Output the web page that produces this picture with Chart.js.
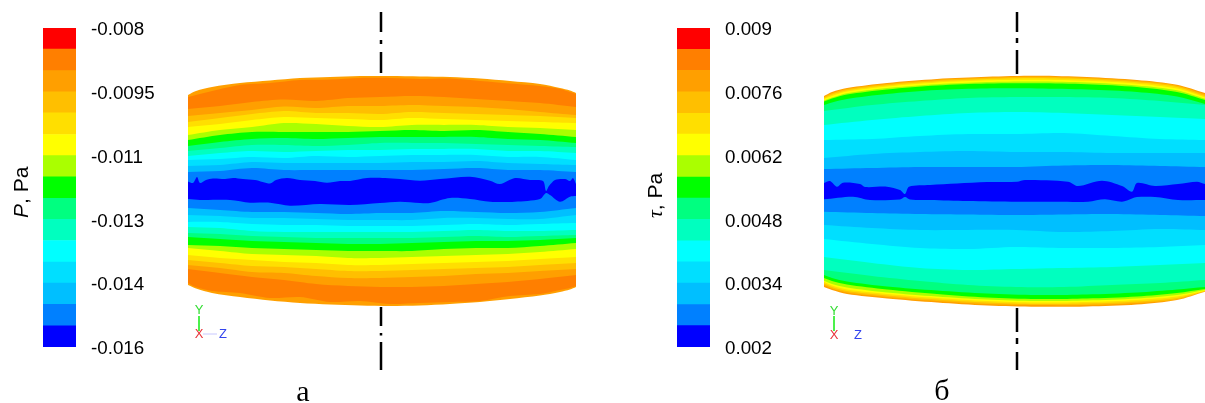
<!DOCTYPE html>
<html>
<head>
<meta charset="utf-8">
<title>P and tau contours</title>
<script src="https://cdn.jsdelivr.net/npm/chart.js@4"></script>
<style>
    html, body { margin: 0; padding: 0; background: #fff; overflow: hidden; }
    canvas { position: absolute; top: 0; }
</style>
</head>
<body>
<canvas id="barP" width="188" height="403" style="left:0"></canvas>
<canvas id="cylP" width="388" height="403" style="left:188px"></canvas>
<canvas id="barTau" width="190" height="403" style="left:634px"></canvas>
<canvas id="cylTau" width="381" height="403" style="left:824px"></canvas>
<script>
'use strict';

// colour bar, low to high
const levelColors = ['#0000ff', '#0080ff', '#00bfff', '#00dfff', '#00ffff', '#00ffbf', '#00ff80', '#00ff00',
    '#aaff00', '#ffff00', '#ffdf00', '#ffbf00', '#ff9f00', '#ff7f00', '#ff0000'];
const levelsP = [-0.016, -0.01547, -0.01493, -0.0144, -0.01387, -0.01333, -0.0128, -0.01227,
    -0.01173, -0.0112, -0.01067, -0.01013, -0.0096, -0.00907, -0.00853, -0.008];
const levelsTau = [0.002, 0.00247, 0.00293, 0.0034, 0.00387, 0.00433, 0.0048, 0.00527,
    0.00573, 0.0062, 0.00667, 0.00713, 0.0076, 0.00807, 0.00853, 0.009];
const ticksP = [-0.016, -0.0144, -0.0128, -0.0112, -0.0096, -0.008];
const tickLabelsP = ['-0.016', '-0.014', '-0.013', '-0.011', '-0.0095', '-0.008'];
const ticksTau = [0.002, 0.0034, 0.0048, 0.0062, 0.0076, 0.009];
const tickLabelsTau = ['0.002', '0.0034', '0.0048', '0.0062', '0.0076', '0.009'];

// band colours from the top of a cylinder to the bottom
const bandColorsP = ['#ff9f00', '#ff7f00', '#ff9f00', '#ffbf00', '#ffdf00', '#ffff00', '#aaff00', '#00ff00',
    '#00ff80', '#00ffbf', '#00ffff', '#00dfff', '#00bfff', '#0080ff', '#0000ff', '#0080ff', '#00bfff', '#00dfff',
    '#00ffff', '#00ffbf', '#00ff80', '#00ff00', '#aaff00', '#ffff00', '#ffdf00', '#ffbf00', '#ff9f00', '#ff7f00',
    '#ff9f00', '#ffffff'];
const bandColorsTau = ['#ff9f00', '#ffbf00', '#ffdf00', '#ffff00', '#aaff00', '#00ff00', '#00ff80',
    '#00ffbf', '#00ffff', '#00dfff', '#00bfff', '#0080ff', '#0000ff', '#0080ff', '#00bfff', '#00dfff',
    '#00ffff', '#00ffbf', '#00ff80', '#00ff00', '#aaff00', '#ffff00', '#ffdf00', '#ffbf00', '#ff9f00', '#ffffff'];

// panel a: stations along z and the contour heights read at them (depth below top of frame)
const rimZP = [-194, -186, -170, -142, -112, -82, -52, -22, 8, 38, 68, 98, 128, 158, 178, 188, 194];
const edgeTopP = [95, 91, 87, 83, 80.5, 78, 77, 76, 76, 76.5, 77, 78.5, 81, 84, 88, 90.5, 93];
const rimTopP = [97, 95, 91, 85, 83, 80, 79.5, 78, 78, 79, 78.5, 81, 83.5, 86, 89, 92, 94];
const rimBottomP = [283, 287, 291, 293, 298, 297, 302, 301, 304, 303, 302, 301, 296, 294, 290, 288, 286];
const edgeBottomP = [285, 288.5, 293, 297, 300.5, 303, 304.5, 305.5, 306, 305.5, 304, 302, 299, 295.5, 292, 289.5, 287];

const zP = [-194, -162, -130, -98, -66, -34, -2, 30, 62, 94, 126, 158, 194];
const upperP = [
    [109, 106, 102, 99.5, 101, 98, 97, 96, 97, 99, 101, 103, 107],
    [116, 113, 110, 106.5, 108, 106, 106, 105, 106, 107, 109, 112, 115],
    [122, 118, 114, 111, 113, 113, 114, 112, 113, 114, 115, 116, 118],
    [127, 124, 120, 117, 118, 119, 120, 118, 119, 120, 121, 122, 123],
    [135, 130, 127, 123, 124, 126, 127, 125, 125, 125, 127, 128, 130],
    [140, 135, 132, 132, 132, 132, 131, 130, 131, 130, 132, 134, 137],
    [146, 142, 139, 138, 139, 138, 137, 137, 137, 137, 139, 140, 143],
    [151, 148, 145, 145, 146, 145, 143, 143, 143, 144, 145, 146, 147],
    [156, 153, 151, 152, 151, 150, 150, 149, 149, 149, 151, 151, 153],
    [160, 159, 157, 158, 156, 157, 156, 155, 155, 155, 157, 157, 160],
    [166, 165, 162, 163, 163, 163, 163, 162, 162, 161, 163, 164, 165],
    [172, 171, 168, 170, 170, 170, 170, 170, 169, 168, 170, 170, 172]
];
const blueTopZP = [-194, -189, -185, -182, -176, -169, -157, -149, -139, -127, -112, -106, -95, -82, -67, -55, -42, -32,
    -15, 3, 18, 38, 58, 88, 108, 118, 133, 148, 161, 164, 167, 173, 183, 188, 191, 194];
const blueTopP = [181.5, 183, 177, 183, 180, 178.5, 179, 178, 179, 180, 183.5, 180, 178, 180, 181, 182.7, 181, 181,
    178, 178, 179, 180.7, 179, 176.7, 180.7, 184, 178, 180, 181, 191, 186, 180, 179, 181, 178, 184];
const blueBottomZP = [-194, -182, -152, -132, -112, -92, -62, -32, -2, 18, 38, 48, 68, 88, 108, 133, 158, 164, 168, 178, 188, 194];
const blueBottomP = [199, 200, 200, 202.7, 202.7, 205.7, 204, 205, 203, 201.7, 203, 203, 198, 199, 201.7, 201.7, 199, 193, 195, 201.7, 196.7, 196];
const lowerP = [
    [208, 210, 212, 212, 213, 214, 213, 213, 211, 212, 213, 212, 208],
    [215, 216, 218, 218, 219, 220, 220, 220, 218, 218, 219, 219, 215],
    [222, 222, 224, 225, 225, 226, 226, 226, 225, 224, 225, 224, 223],
    [227, 228, 231, 232, 232, 232, 232, 232, 231, 230, 231, 231, 230],
    [233, 234, 236, 237, 238, 238, 238, 238, 237, 236, 237, 236, 235],
    [237, 239, 241, 242, 243, 244, 244, 243, 242, 241, 241, 240, 238],
    [245, 246, 248, 249, 250, 251, 251, 251, 249, 248, 248, 246, 243],
    [248, 251, 254, 255, 256, 258, 258, 257, 256, 255, 254, 252, 249],
    [255, 258, 260, 262, 263, 265, 265, 264, 263, 262, 261, 259, 257],
    [260, 263, 266, 267, 269, 271, 271, 270, 269, 268, 267, 265, 263],
    [265, 268, 272, 273, 276, 278, 278, 277, 276, 274, 273, 271, 269],
    [269, 273, 277, 280, 284, 286, 287, 287, 286, 284, 282, 279, 275]
];

// panel b: thin rim bands use their own stations
const rimZTau = [-193, -185, -170, -130, -80, -30, 20, 70, 120, 160, 188];
const upperRimTau = [
    [96, 92, 88, 83, 79, 76.8, 75.8, 77, 80, 84.7, 93],
    [97, 93.2, 89, 84, 80, 77.8, 76.8, 78, 81, 85.7, 94.5],
    [98, 94.5, 90.2, 85.2, 81.2, 79, 78, 79.3, 82.3, 87, 96],
    [99, 96, 91.5, 86.5, 82.5, 80.3, 79.7, 80.8, 83.7, 88.5, 97.2],
    [100.5, 97.5, 93.2, 88, 84.2, 82, 81.5, 82.5, 85.5, 90.3, 98.8],
    [101.5, 98.5, 94.5, 89.5, 85.5, 83.5, 83.3, 84.2, 87, 92, 100],
    [105, 102.5, 99, 94, 90, 88.5, 88.5, 89.5, 92, 96.5, 104]
];
const lowerRimTau = [
    [275, 278, 281.5, 286.5, 290.5, 293.5, 295, 294.5, 292.5, 289.5, 287],
    [278, 281, 284.5, 289.5, 294, 297.5, 299, 298.5, 296.5, 293, 289],
    [280.7, 284, 287.5, 292.5, 296.5, 299.5, 301, 300.5, 298.5, 295, 290],
    [282, 285.5, 289.5, 294, 298, 301, 302.5, 302, 300, 296.5, 290.7],
    [283.5, 287, 291, 295.5, 299.5, 302.5, 304, 303.5, 301.5, 298, 291.2],
    [285, 288.5, 292.5, 297, 301, 304, 305, 305, 303, 299.5, 291.5],
    [287, 290, 294, 298.5, 302.5, 305.5, 306.7, 306.5, 304.5, 300, 291.7]
];
const zTau = [-193, -145, -97, -49, -1, 47, 95, 143, 188];
const upperTau = [
    [111, 105, 101, 98, 97, 97, 98, 101, 105],
    [125, 120, 116, 113, 112, 113, 115, 117, 119],
    [140, 139, 136, 134, 134, 133, 136, 139, 140],
    [158, 154, 152, 151, 152, 152, 153, 153, 153],
    [169, 168, 167, 167, 167, 165.5, 165, 166, 167]
];
const blueTopZTau = [-193, -187, -180, -174, -157, -152, -130, -117, -112, -108, -87, -60, -30, 0, 8, 51, 61, 85, 105, 115, 120, 138, 161, 180, 188];
const blueTopTau = [183, 181, 186.7, 182.7, 184, 187, 186.7, 190, 194, 186.7, 185, 183.5, 182, 181.7, 180, 181.7, 186, 180.7, 186, 191.7, 183, 186, 184, 181.7, 184];
const blueBottomZTau = [-193, -164, -147, -117, -112, -107, -87, -50, 0, 40, 71, 88, 105, 115, 120, 138, 161, 188];
const blueBottomTau = [199.3, 196.7, 200, 199.5, 197, 199.5, 200, 201, 201.7, 201.7, 201.7, 199.3, 201.7, 198.5, 197, 197, 200, 200];
const lowerTau = [
    [211.7, 213, 214, 214.5, 215, 214.5, 214, 215, 216],
    [225, 228, 230, 230, 230, 232, 231, 229, 230],
    [239, 244, 248, 249, 247, 248, 248, 247, 245],
    [257, 263, 268, 270, 269, 268, 267, 265, 263],
    [270, 276, 281, 285, 287, 287, 285, 283, 280]
];

// dash-dot cylinder axis, null breaks the line
const axisDepthP = [12, 32, null, 40, 44, null, 52, 73, null, 307, 326, null, 333, 335.5, null, 342, 370];
const axisDepthTau = [12, 32, null, 38, 43, null, 50, 74, null, 308, 332, null, 338, 344, null, 352, 370];

function points(zs, ys) {
    return ys.map((y, i) => ({ x: zs[i], y: y }));
}

function bandDatasets(lines, colors) {
    // painted top to bottom, each fill runs down and is covered by the next one
    return lines.map((pts, i) => ({
        data: pts,
        showLine: true,
        pointRadius: 0,
        borderWidth: 0,
        tension: 0.3,
        fill: 'start',
        backgroundColor: colors[i],
        order: lines.length - i + 10
    }));
}

function strokeDataset(pts, color, width) {
    return { data: pts, showLine: true, pointRadius: 0, borderColor: color, borderWidth: width, fill: false, order: 0 };
}

const textPlugin = items => ({
    id: 'panelText',
    afterDraw(chart) {
        const ctx = chart.ctx;
        ctx.save();
        ctx.textAlign = 'center';
        ctx.textBaseline = 'middle';
        items.forEach(t => {
            ctx.font = t.font;
            ctx.fillStyle = t.color;
            ctx.fillText(t.text, chart.scales.x.getPixelForValue(t.z), chart.scales.y.getPixelForValue(t.y));
        });
        ctx.restore();
    }
});

function makeCylinder(id, lines, colors, axisZ, axisDepth, minZ, maxZ, extra, texts) {
    new Chart(document.getElementById(id), {
        type: 'scatter',
        data: {
            datasets: bandDatasets(lines, colors)
                .concat([strokeDataset(axisDepth.map(d => ({ x: axisZ, y: d })), '#000', 2.5)])
                .concat(extra)
        },
        options: {
            responsive: false,
            animation: false,
            layout: { padding: 0 },
            plugins: { legend: { display: false }, tooltip: { enabled: false } },
            scales: {
                x: { type: 'linear', min: minZ, max: maxZ, display: false },
                y: { type: 'linear', min: 0, max: 403, reverse: true, display: false }
            }
        },
        plugins: [textPlugin(texts)]
    });
}

const titlePlugin = (symbol, symbolFont) => ({
    id: 'barTitle',
    afterDraw(chart) {
        const ctx = chart.ctx;
        ctx.save();
        ctx.translate(chart.chartArea.left - 21, 190);
        ctx.rotate(-Math.PI / 2);
        ctx.textBaseline = 'middle';
        ctx.fillStyle = '#000';
        ctx.font = symbolFont;
        const w = ctx.measureText(symbol).width;
        ctx.textAlign = 'left';
        ctx.fillText(symbol, -28, 0);
        ctx.font = '21px "Liberation Sans"';
        ctx.fillText(', Pa', -28 + w, 0);
        ctx.restore();
    }
});

function makeColorbar(id, levels, ticks, labels, symbol, symbolFont) {
    const lo = levels[0];
    const hi = levels[levels.length - 1];
    // labels in the picture sit about 2px below their level
    const labelDrop = (hi - lo) * 2 / 319;
    new Chart(document.getElementById(id), {
        type: 'bar',
        data: {
            labels: [''],
            datasets: levelColors.map((c, i) => ({
                data: [[levels[i], levels[i + 1]]],
                backgroundColor: c,
                borderWidth: 0,
                barPercentage: 1,
                categoryPercentage: 1,
                grouped: false
            }))
        },
        options: {
            responsive: false,
            animation: false,
            layout: { padding: { left: 43, right: 0, top: 28, bottom: 56 } },
            plugins: { legend: { display: false }, tooltip: { enabled: false } },
            scales: {
                x: { display: false },
                y: {
                    type: 'linear',
                    position: 'right',
                    min: lo,
                    max: hi,
                    border: { display: false },
                    grid: { display: false, drawTicks: false },
                    afterBuildTicks: s => { s.ticks = ticks.map(v => ({ value: v - labelDrop })); },
                    afterFit: s => { s.width = s.chart.width - 43 - 33; },
                    ticks: {
                        padding: 15,
                        autoSkip: false,
                        color: '#000',
                        font: { family: '"Liberation Sans"', size: 18.8 },
                        callback: (v, i) => labels[i]
                    }
                }
            }
        },
        plugins: [titlePlugin(symbol, symbolFont)]
    });
}

makeColorbar('barP', levelsP, ticksP, tickLabelsP, 'P', 'italic 21px "Liberation Sans"');
makeColorbar('barTau', levelsTau, ticksTau, tickLabelsTau, 'τ', 'italic 22px "Liberation Serif"');

const linesP = [points(rimZP, edgeTopP), points(rimZP, rimTopP)]
    .concat(upperP.map(r => points(zP, r)))
    .concat([points(blueTopZP, blueTopP), points(blueBottomZP, blueBottomP)])
    .concat(lowerP.map(r => points(zP, r)))
    .concat([points(rimZP, rimBottomP), points(rimZP, edgeBottomP)]);

const linesTau = upperRimTau.map(r => points(rimZTau, r))
    .concat(upperTau.map(r => points(zTau, r)))
    .concat([points(blueTopZTau, blueTopTau), points(blueBottomZTau, blueBottomTau)])
    .concat(lowerTau.map(r => points(zTau, r)))
    .concat(lowerRimTau.map(r => points(rimZTau, r)));

const triadFont = '13px "Liberation Sans"';

makeCylinder('cylP', linesP, bandColorsP, -1, axisDepthP, -194, 194, [
    strokeDataset([{ x: -183, y: 316 }, { x: -183, y: 331 }], '#33ee33', 1),
    strokeDataset([{ x: -179, y: 334 }, { x: -165, y: 334 }], '#c8c8ff', 1)
], [
    { text: 'Y', z: -183, y: 310, color: '#33dd33', font: triadFont },
    { text: 'X', z: -183, y: 334, color: '#e8333a', font: triadFont },
    { text: 'Z', z: -159, y: 334, color: '#3344ee', font: triadFont },
    { text: 'а', z: -79, y: 393, color: '#000', font: '30px "Liberation Serif"' }
]);

makeCylinder('cylTau', linesTau, bandColorsTau, 0, axisDepthTau, -193, 188, [
    strokeDataset([{ x: -183, y: 316 }, { x: -183, y: 331 }], '#33ee33', 1)
], [
    { text: 'Y', z: -183, y: 311, color: '#33dd33', font: triadFont },
    { text: 'X', z: -183, y: 335, color: '#e8333a', font: triadFont },
    { text: 'Z', z: -159, y: 335, color: '#3344ee', font: triadFont },
    { text: 'б', z: -75, y: 392, color: '#000', font: '30px "Liberation Serif"' }
]);
</script>
</body>
</html>
